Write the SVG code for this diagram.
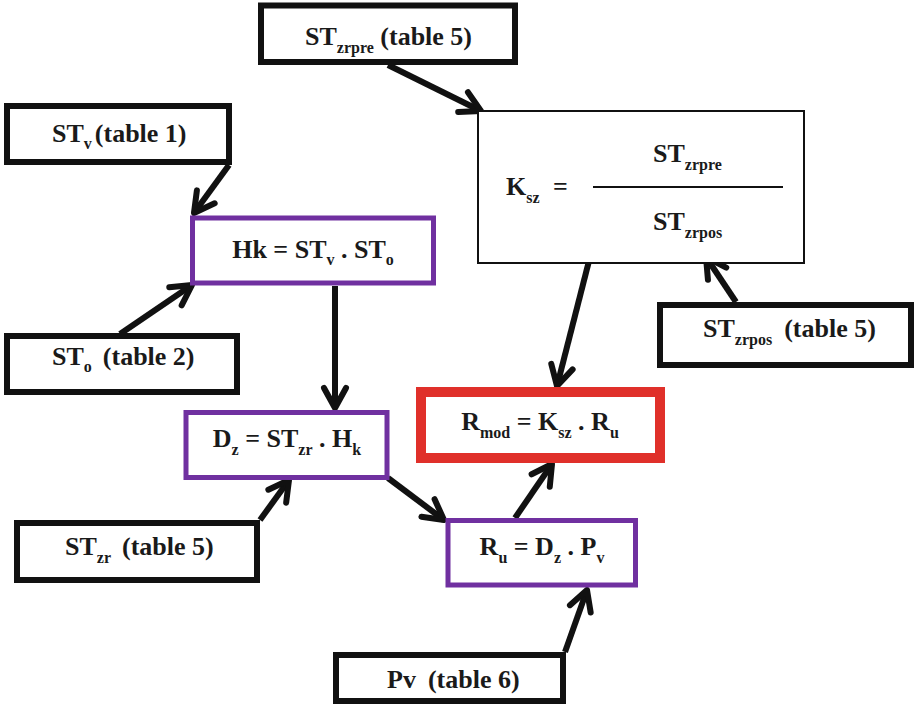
<svg xmlns="http://www.w3.org/2000/svg" width="915" height="706" viewBox="0 0 915 706">
<defs>
<style>
.t{font-family:'Liberation Serif','Times New Roman',serif;font-weight:bold;font-size:26px;fill:#1a1a1a}
.s{font-size:16px}
.src{fill:#fff;stroke:#111;stroke-width:6}
.calc{fill:#fff;stroke:#7030A0;stroke-width:5}
.res{fill:#fff;stroke:#E0302A;stroke-width:10}
.thin{fill:#fff;stroke:#111;stroke-width:2}
.c{fill:none;stroke:#111;stroke-width:6;marker-end:url(#ah)}
</style>
<marker id="ah" markerUnits="userSpaceOnUse" markerWidth="40" markerHeight="40" viewBox="-30 -20 40 40" refX="0" refY="0" orient="auto" overflow="visible">
<path d="M-20,-11 L0,0 L-20,11" fill="none" stroke="#111" stroke-width="6" stroke-linecap="round" stroke-linejoin="round"/>
</marker>
</defs>
<g id="connectors">
<path class="c" d="M388,65 L481,111"/>
<path class="c" d="M229,165 L194,213"/>
<path class="c" d="M120,334 L192,285"/>
<path class="c" d="M335,286 L335,408"/>
<path class="c" d="M260,520 L289,480"/>
<path class="c" d="M388,478 L444,520"/>
<path class="c" d="M515,518 L552,464"/>
<path class="c" d="M565,652 L587,590"/>
<path class="c" d="M590,257 L557,386"/>
<path class="c" d="M736,302 L706,257"/>
</g>
<g font-family="Liberation Serif, serif">
<g id="st-zrpre">
<rect class="src" x="261" y="5.5" width="254" height="56.5"/>
<text class="t" x="305" y="45">ST<tspan class="s" dy="8">zrpre</tspan><tspan dy="-8"> (table 5)</tspan></text>
</g>
<g id="st-v">
<rect class="src" x="7" y="106" width="222" height="56"/>
<text class="t" x="52" y="142">ST<tspan class="s" dy="7">v</tspan><tspan dy="-7" dx="3">(table 1)</tspan></text>
</g>
<g id="ksz">
<rect class="thin" x="478" y="111" width="326" height="152"/>
<text class="t" x="506" y="195">K<tspan class="s" dy="8">sz</tspan></text>
<text class="t" x="553" y="195">=</text>
<line x1="593" y1="187" x2="783" y2="187" stroke="#111" stroke-width="2"/>
<text class="t" x="653" y="162">ST<tspan class="s" dy="8">zrpre</tspan></text>
<text class="t" x="653" y="230">ST<tspan class="s" dy="8">zrpos</tspan></text>
</g>
<g id="hk">
<rect class="calc" x="192.5" y="218" width="241" height="65"/>
<text class="t" x="313" y="258" text-anchor="middle">Hk = ST<tspan class="s" dy="7">v</tspan><tspan dy="-7"> . ST</tspan><tspan class="s" dy="7">o</tspan></text>
</g>
<g id="st-o">
<rect class="src" x="7" y="336" width="230" height="56"/>
<text class="t" x="52" y="365">ST<tspan class="s" dy="7">o</tspan><tspan dy="-7" dx="11">(table 2)</tspan></text>
</g>
<g id="st-zrpos">
<rect class="src" x="660" y="305" width="251" height="60"/>
<text class="t" x="703" y="337">ST<tspan class="s" dy="8">zrpos</tspan><tspan dy="-8" dx="12">(table 5)</tspan></text>
</g>
<g id="dz">
<rect class="calc" x="186" y="412.5" width="201" height="65"/>
<text class="t" x="287" y="447" text-anchor="middle">D<tspan class="s" dy="8">z</tspan><tspan dy="-8"> = ST</tspan><tspan class="s" dy="8">zr</tspan><tspan dy="-8"> . H</tspan><tspan class="s" dy="8">k</tspan></text>
</g>
<g id="rmod">
<rect class="res" x="421" y="392" width="239" height="66"/>
<text class="t" x="540" y="430" text-anchor="middle">R<tspan class="s" dy="8">mod</tspan><tspan dy="-8"> = K</tspan><tspan class="s" dy="8">sz</tspan><tspan dy="-8"> . R</tspan><tspan class="s" dy="8">u</tspan></text>
</g>
<g id="st-zr">
<rect class="src" x="17" y="523" width="240" height="57"/>
<text class="t" x="65" y="555">ST<tspan class="s" dy="8">zr</tspan><tspan dy="-8" dx="11">(table 5)</tspan></text>
</g>
<g id="ru">
<rect class="calc" x="448" y="520.5" width="187.5" height="64.5"/>
<text class="t" x="542" y="555" text-anchor="middle">R<tspan class="s" dy="8">u</tspan><tspan dy="-8"> = D</tspan><tspan class="s" dy="8">z</tspan><tspan dy="-8"> . P</tspan><tspan class="s" dy="8">v</tspan></text>
</g>
<g id="pv">
<rect class="src" x="336" y="655" width="227" height="46"/>
<text class="t" x="387" y="688">Pv<tspan dx="12">(table 6)</tspan></text>
</g>
</g>
</svg>
